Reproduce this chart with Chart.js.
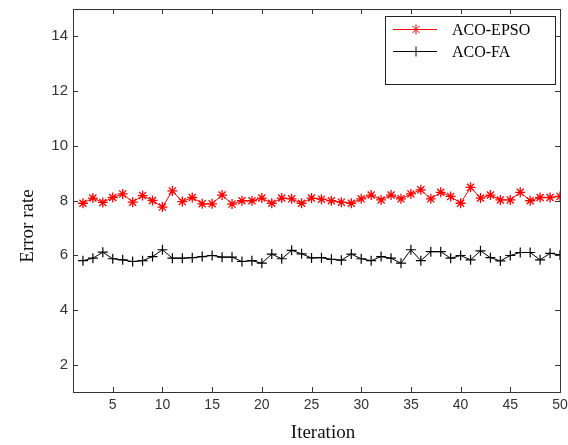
<!DOCTYPE html>
<html>
<head>
<meta charset="utf-8">
<script src="https://cdn.jsdelivr.net/npm/chart.js@4/dist/chart.umd.min.js"></script>
<style>
  html, body { margin: 0; padding: 0; background: #fff; }
  #wrap { width: 568px; height: 445px; }
</style>
</head>
<body>
<div id="wrap"><canvas id="chart"></canvas></div>
<script>
// iterations 2..50
const iterations = [2, 3, 4, 5, 6, 7, 8, 9, 10, 11, 12, 13, 14, 15, 16, 17, 18, 19, 20, 21, 22, 23, 24, 25, 26,
  27, 28, 29, 30, 31, 32, 33, 34, 35, 36, 37, 38, 39, 40, 41, 42, 43, 44, 45, 46, 47, 48, 49, 50];
const acoEpso = [7.9, 8.09, 7.93, 8.11, 8.24, 7.94, 8.18, 8.0, 7.76, 8.35,
  7.96, 8.11, 7.88, 7.88, 8.2, 7.87, 7.99, 7.99, 8.09, 7.9,
  8.09, 8.06, 7.9, 8.09, 8.05, 7.99, 7.94, 7.9, 8.06, 8.2,
  8.02, 8.2, 8.06, 8.24, 8.39, 8.06, 8.3, 8.15, 7.9, 8.48,
  8.09, 8.2, 8.02, 8.02, 8.3, 7.99, 8.11, 8.11, 8.15];
const acoFa = [5.8, 5.89, 6.11, 5.87, 5.83, 5.77, 5.8, 5.95, 6.2, 5.89,
  5.89, 5.91, 5.95, 5.99, 5.93, 5.93, 5.77, 5.8, 5.71, 6.04,
  5.87, 6.18, 6.05, 5.9, 5.91, 5.85, 5.82, 6.04, 5.87, 5.8,
  5.95, 5.89, 5.71, 6.2, 5.8, 6.13, 6.13, 5.89, 5.99, 5.83,
  6.16, 5.91, 5.79, 5.99, 6.1, 6.1, 5.83, 6.07, 6.01];
const xTicks = [5, 10, 15, 20, 25, 30, 35, 40, 45, 50];
const yTicks = [2, 4, 6, 8, 10, 12, 14];

const toPoints = (vals) => vals.map((v, i) => ({ x: iterations[i], y: v }));

// frame, inward ticks, axis titles and boxed legend (MATLAB look)
const matlabPlugin = {
  id: "matlab",
  afterDraw(chart) {
    const { ctx, chartArea: a, scales } = chart;
    const sx = scales.x, sy = scales.y;
    ctx.save();
    ctx.strokeStyle = "#333";
    ctx.lineWidth = 1;
    ctx.strokeRect(a.left + 0.5, a.top + 0.5, a.right - a.left, a.bottom - a.top);
    ctx.beginPath();
    xTicks.forEach((t) => {
      const px = Math.round(sx.getPixelForValue(t)) + 0.5;
      ctx.moveTo(px, a.bottom); ctx.lineTo(px, a.bottom - 5);
      ctx.moveTo(px, a.top); ctx.lineTo(px, a.top + 5);
    });
    yTicks.forEach((t) => {
      const py = Math.round(sy.getPixelForValue(t)) + 0.5;
      ctx.moveTo(a.left, py); ctx.lineTo(a.left + 5, py);
      ctx.moveTo(a.right, py); ctx.lineTo(a.right - 5, py);
    });
    ctx.stroke();

    // axis titles
    ctx.fillStyle = "#111";
    ctx.font = "19px 'Liberation Serif', 'Times New Roman', serif";
    ctx.textAlign = "center";
    ctx.textBaseline = "middle";
    ctx.fillText("Iteration", 323, 433);
    ctx.save();
    ctx.translate(28, 226);
    ctx.rotate(-Math.PI / 2);
    ctx.fillText("Error rate", 0, 0);
    ctx.restore();

    // legend box
    ctx.fillStyle = "#fff";
    ctx.fillRect(385, 16, 170, 68);
    ctx.strokeStyle = "#222";
    ctx.strokeRect(385.5, 16.5, 170, 68);
    ctx.font = "16px 'Liberation Serif', 'Times New Roman', serif";
    ctx.textAlign = "left";
    chart.data.datasets.forEach((ds, i) => {
      const ly = 29.5 + i * 22;
      ctx.strokeStyle = ds.borderColor;
      ctx.fillStyle = ds.borderColor;
      ctx.lineWidth = 1;
      ctx.beginPath();
      ctx.moveTo(393, ly); ctx.lineTo(437, ly);
      ctx.stroke();
      Chart.helpers.drawPoint(ctx, { pointStyle: ds.pointStyle, radius: 5, borderWidth: 1.2 }, 416, ly);
      ctx.fillStyle = "#000";
      ctx.fillText(ds.label, 452, ly + 1);
    });
    ctx.restore();
  }
};

new Chart(document.getElementById("chart"), {
  type: "line",
  data: {
    datasets: [
      {
        label: "ACO-EPSO",
        data: toPoints(acoEpso),
        borderColor: "#ff0000",
        backgroundColor: "#ff0000",
        borderWidth: 1,
        pointStyle: "star",
        pointRadius: 5,
        pointBorderWidth: 1.3,
        tension: 0
      },
      {
        label: "ACO-FA",
        data: toPoints(acoFa),
        borderColor: "#000000",
        backgroundColor: "#000000",
        borderWidth: 1,
        pointStyle: "cross",
        pointRadius: 5,
        pointBorderWidth: 1.2,
        tension: 0
      }
    ]
  },
  options: {
    responsive: true,
    maintainAspectRatio: false,
    animation: false,
    layout: { padding: { top: 9, right: 8, left: 0, bottom: 0 } },
    plugins: {
      legend: { display: false },
      tooltip: { enabled: false }
    },
    scales: {
      x: {
        type: "linear",
        min: 1,
        max: 50,
        grid: { display: false, drawTicks: false },
        border: { display: false },
        afterBuildTicks: (s) => { s.ticks = xTicks.map((v) => ({ value: v })); },
        afterFit: (s) => { s.height = 53; s.paddingLeft = 0; s.paddingRight = 0; },
        ticks: {
          padding: 5,
          color: "#333",
          maxRotation: 0,
          font: { family: "'Liberation Sans', Arial, sans-serif", size: 14 }
        }
      },
      y: {
        min: 1,
        max: 15,
        grid: { display: false, drawTicks: false },
        border: { display: false },
        afterBuildTicks: (s) => { s.ticks = yTicks.map((v) => ({ value: v })); },
        afterFit: (s) => { s.width = 73; s.paddingTop = 0; s.paddingBottom = 0; },
        ticks: {
          padding: 5,
          color: "#333",
          font: { family: "'Liberation Sans', Arial, sans-serif", size: 15 }
        }
      }
    }
  },
  plugins: [matlabPlugin]
});
</script>
</body>
</html>
